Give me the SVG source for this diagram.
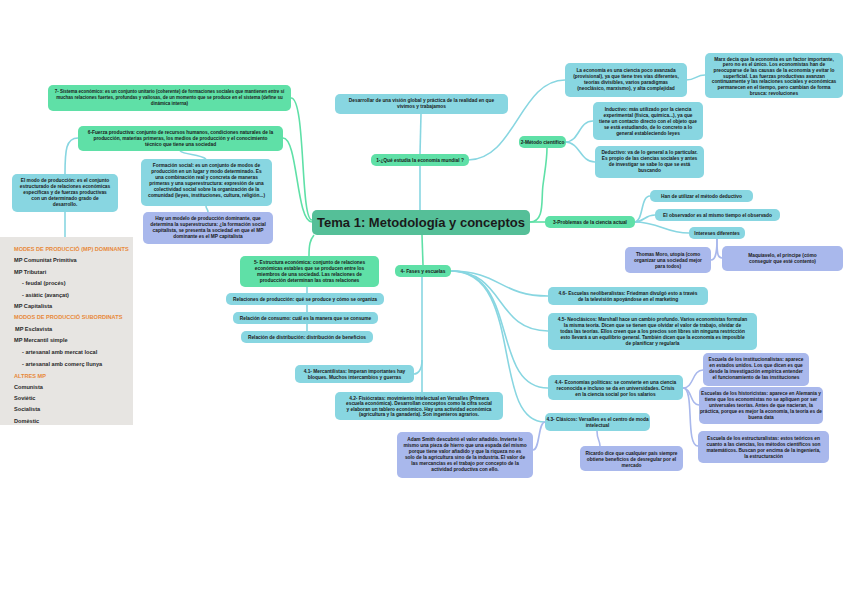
<svg xmlns="http://www.w3.org/2000/svg" width="848" height="599" viewBox="0 0 848 599">
<defs>
<style>
.g{fill:#5fe0a7}
.b{fill:#88d6e1}
.l{fill:#a9b8ec}
.c{fill:#55bf98}
text{font-family:"Liberation Sans",Arial,sans-serif;fill:#1a1a1a}
.t{font-size:4.8px;font-weight:bold;text-anchor:middle}
.s{font-size:4.5px}
.lg{stroke:#5fe0a7;fill:none;stroke-width:1.6}
.lb{stroke:#88d6e1;fill:none;stroke-width:1.6}
.ll{stroke:#a9b8ec;fill:none;stroke-width:1.6}
.im{font-size:5.6px;font-weight:bold;fill:#2a2a2a}
.or{fill:#e8893a}
</style>
</defs>
<rect width="848" height="599" fill="#ffffff"/>

<g id="connectors">
<path class="lb" d="M420,154 L421,114"/>
<path class="lb" d="M420,210 L420,166"/>
<path class="lb" d="M468,160 C515,160 520,80 565,80"/>
<path class="lb" d="M686,80 C696,80 696,75 705,75"/>
<path class="lb" d="M565,142 C580,142 578,121 593,121"/>
<path class="lb" d="M565,142 C580,142 580,162 595,162"/>
<path class="lg" d="M530,222 C545,222 541,200 543,185 C545,170 547,160 547,148"/>
<path class="lg" d="M530,222 L545,222"/>
<path class="lb" d="M634,222 C644,222 640,196 650,196"/>
<path class="lb" d="M634,222 C645,222 644,215 655,215"/>
<path class="lb" d="M634,222 C660,222 665,233 689,233"/>
<path class="ll" d="M717,239 C717,255 715,260 711,260"/>
<path class="ll" d="M717,239 C717,255 718,258 722,258"/>
<path class="lg" d="M312,220 C300,220 306,98 291,98"/>
<path class="lg" d="M312,222 C296,222 298,138 283,138"/>
<path class="lb" d="M78,138 C66,138 65,150 65,174"/>
<path class="lb" d="M180,151 C185,155 200,154 206,159"/>
<path class="lb" d="M206,206 C206,209 208,209 208,212"/>
<path class="lb" d="M65,212 L65,237"/>
<path class="lg" d="M314,235 C310,240 309,245 309,256"/>
<path class="lb" d="M307,287 L307,331"/>
<path class="lg" d="M422,235 L423,265"/>
<path class="lb" d="M422,277 L422,392"/>
<path class="lb" d="M422,360 C422,370 418,374 414,374"/>
<path class="lb" d="M451,271 C500,271 500,296 548,296"/>
<path class="lb" d="M451,271 C505,271 495,331 548,331"/>
<path class="lb" d="M451,271 C520,271 490,388 548,388"/>
<path class="lb" d="M451,271 C525,271 490,422 545,422"/>
<path class="ll" d="M545,422 C538,422 540,450 533,450"/>
<path class="ll" d="M597,431 C597,440 600,440 600,446"/>
<path class="ll" d="M683,388 C694,388 692,370 703,370"/>
<path class="ll" d="M683,388 C692,388 690,405 699,405"/>
<path class="ll" d="M683,388 C695,388 685,446 698,446"/>
</g>

<g id="center">
<rect class="c" x="312" y="210" width="218" height="25" rx="5"/>
<text x="421" y="227" font-size="13" font-weight="bold" text-anchor="middle" textLength="208" lengthAdjust="spacingAndGlyphs" fill="#1c2b2a">Tema 1: Metodología y conceptos</text>
</g>

<g id="n7">
<rect class="g" x="48" y="85" width="243" height="26" rx="5"/>
<text class="t s"><tspan x="169.5" y="93">7- Sistema económico: es un conjunto unitario (coherente) de formaciones sociales que mantienen entre sí</tspan><tspan x="169.5" y="99">muchas relaciones fuertes, profundas y valiosas, de un momento que se produce en el sistema (define su</tspan><tspan x="169.5" y="105">dinámica interna)</tspan></text>
</g>

<g id="n6">
<rect class="g" x="78" y="126" width="205" height="25" rx="5"/>
<text class="t"><tspan x="180.5" y="134">6-Fuerza productiva: conjunto de recursos humanos, condiciones naturales de la</tspan><tspan x="180.5" y="140">producción, materias primeras, los medios de producción y el conocimiento</tspan><tspan x="180.5" y="146">técnico que tiene una sociedad</tspan></text>
</g>

<g id="nModo">
<rect class="b" x="12" y="174" width="106" height="38" rx="5"/>
<text class="t"><tspan x="65" y="182">El modo de producción: es el conjunto</tspan><tspan x="65" y="188">estructurado de relaciones económicas</tspan><tspan x="65" y="194">específicas y de fuerzas productivas</tspan><tspan x="65" y="200">con un determinado grado de</tspan><tspan x="65" y="206">desarrollo.</tspan></text>
</g>

<g id="nFormacion">
<rect class="b" x="141" y="159" width="131" height="47" rx="5"/>
<text class="t"><tspan x="206.5" y="167">Formación social: es un conjunto de modos de</tspan><tspan x="206.5" y="173">producción en un lugar y modo determinado. Es</tspan><tspan x="206.5" y="179">una combinación real y concreta de maneras</tspan><tspan x="206.5" y="185">primeras y una superestructura: expresión de una</tspan><tspan x="206.5" y="191">colectividad social sobre la organización de la</tspan><tspan x="206.5" y="197">comunidad (leyes, instituciones, cultura, religión...)</tspan></text>
</g>

<g id="nHay">
<rect class="l" x="143" y="212" width="130" height="32" rx="5"/>
<text class="t"><tspan x="208" y="220">Hay un modelo de producción dominante, que</tspan><tspan x="208" y="226">determina la superestructura: ¿la formación social</tspan><tspan x="208" y="232">capitalista, se presenta la sociedad en que el MP</tspan><tspan x="208" y="238">dominante es el MP capitalista</tspan></text>
</g>

<g id="imagen">
<rect x="0" y="237" width="133" height="188" fill="#e7e5e2"/>
<text class="im or" x="14" y="251">MODES DE PRODUCCIÓ (MP) DOMINANTS</text>
<text class="im" x="14" y="262">MP Comunitat Primitiva</text>
<text class="im" x="14" y="274">MP Tributari</text>
<text class="im" x="22" y="285">- feudal (procés)</text>
<text class="im" x="22" y="297">- asiàtic (avançat)</text>
<text class="im" x="14" y="308">MP Capitalista</text>
<text class="im or" x="14" y="319">MODOS DE PRODUCCIÓ SUBORDINATS</text>
<text class="im" x="15" y="331">MP Esclavista</text>
<text class="im" x="14" y="342">MP Mercantil simple</text>
<text class="im" x="22" y="354">- artesanal amb mercat local</text>
<text class="im" x="22" y="366">- artesanal amb comerç llunya</text>
<text class="im or" x="14" y="378">ALTRES MP</text>
<text class="im" x="14" y="389">Comunista</text>
<text class="im" x="14" y="400">Soviètic</text>
<text class="im" x="14" y="411">Socialista</text>
<text class="im" x="14" y="423">Domèstic</text>
</g>

<g id="nDesarrollar">
<rect class="b" x="335" y="94" width="173" height="20" rx="5"/>
<text class="t"><tspan x="421.5" y="102">Desarrollar de una visión global y práctica de la realidad en que</tspan><tspan x="421.5" y="108">vivimos y trabajamos</tspan></text>
</g>

<g id="n1">
<rect class="g" x="371" y="154" width="98" height="12" rx="5"/>
<text class="t" x="420" y="162">1-¿Qué estudia la economía mundial ?</text>
</g>

<g id="n2">
<rect class="g" x="519" y="136" width="47" height="12" rx="5"/>
<text class="t" x="542.5" y="144">2-Método científico</text>
</g>

<g id="nEconomia">
<rect class="b" x="565" y="63" width="122" height="34" rx="5"/>
<text class="t"><tspan x="626" y="72">La economía es una ciencia poco avanzada</tspan><tspan x="626" y="78">(provisional), ya que tiene tres vías diferentes,</tspan><tspan x="626" y="84">teorías divisibles, varios paradigmas</tspan><tspan x="626" y="90">(neoclásico, marxismo), y alta complejidad</tspan></text>
</g>

<g id="nMarx">
<rect class="b" x="705" y="53" width="138" height="45" rx="5"/>
<text class="t"><tspan x="774" y="60.5">Marx decía que la economía es un factor importante,</tspan><tspan x="774" y="66.2">pero no es el único. Los economistas han de</tspan><tspan x="774" y="71.9">preocuparse de las causas de la economía y evitar lo</tspan><tspan x="774" y="77.6">superficial. Las fuerzas productivas avanzan</tspan><tspan x="774" y="83.3">continuamente y las relaciones sociales y económicas</tspan><tspan x="774" y="89">permanecen en el tiempo, pero cambian de forma</tspan><tspan x="774" y="94.7">brusca: revoluciones</tspan></text>
</g>

<g id="nInductivo">
<rect class="b" x="593" y="102" width="110" height="38" rx="5"/>
<text class="t"><tspan x="648" y="111">Inductivo: más utilizado por la ciencia</tspan><tspan x="648" y="117">experimental (física, química...), ya que</tspan><tspan x="648" y="123">tiene un contacto directo con el objeto que</tspan><tspan x="648" y="129">se está estudiando, de lo concreto a lo</tspan><tspan x="648" y="135">general estableciendo leyes</tspan></text>
</g>

<g id="nDeductivo">
<rect class="b" x="595" y="146" width="109" height="32" rx="5"/>
<text class="t"><tspan x="649.5" y="154">Deductivo: va de lo general a lo particular.</tspan><tspan x="649.5" y="160">Es propio de las ciencias sociales y antes</tspan><tspan x="649.5" y="166">de investigar se sabe lo que se está</tspan><tspan x="649.5" y="172">buscando</tspan></text>
</g>

<g id="n3">
<rect class="g" x="545" y="216" width="90" height="12" rx="5"/>
<text class="t" x="590" y="224">3-Problemas de la ciencia actual</text>
</g>

<g id="nHan">
<rect class="b" x="650" y="190" width="103" height="12" rx="5"/>
<text class="t" x="701.5" y="198">Han de utilizar el método deductivo</text>
</g>

<g id="nObservador">
<rect class="b" x="655" y="209" width="125" height="12" rx="5"/>
<text class="t" x="717.5" y="217">El observador es al mismo tiempo el observado</text>
</g>

<g id="nIntereses">
<rect class="b" x="689" y="227" width="56" height="12" rx="5"/>
<text class="t" x="717" y="235">Intereses diferentes</text>
</g>

<g id="nThomas">
<rect class="l" x="625" y="247" width="86" height="26" rx="5"/>
<text class="t"><tspan x="668" y="256">Thomas Moro, utopía (como</tspan><tspan x="668" y="262">organizar una sociedad mejor</tspan><tspan x="668" y="268">para todos)</tspan></text>
</g>

<g id="nMaquiavelo">
<rect class="l" x="722" y="246" width="121" height="25" rx="5"/>
<text class="t"><tspan x="782.5" y="257">Maquiavelo, el príncipe (cómo</tspan><tspan x="782.5" y="263">conseguir que esté contento)</tspan></text>
</g>

<g id="n4">
<rect class="g" x="395" y="265" width="56" height="12" rx="5"/>
<text class="t" x="423" y="273">4- Fases y escuelas</text>
</g>

<g id="n5">
<rect class="g" x="240" y="256" width="139" height="31" rx="5"/>
<text class="t"><tspan x="309.5" y="264">5- Estructura económica: conjunto de relaciones</tspan><tspan x="309.5" y="270">económicas estables que se producen entre los</tspan><tspan x="309.5" y="276">miembros de una sociedad. Las relaciones de</tspan><tspan x="309.5" y="282">producción determinan las otras relaciones</tspan></text>
</g>

<g id="nRelProd">
<rect class="b" x="226" y="293" width="158" height="12" rx="5"/>
<text class="t" x="305" y="301">Relaciones de producción: qué se produce y cómo se organiza</text>
</g>

<g id="nRelCons">
<rect class="b" x="233" y="312" width="145" height="12" rx="5"/>
<text class="t" x="305.5" y="320">Relación de consumo: cuál es la manera que se consume</text>
</g>

<g id="nRelDist">
<rect class="b" x="241" y="331" width="132" height="12" rx="5"/>
<text class="t" x="307" y="339">Relación de distribución: distribución de beneficios</text>
</g>

<g id="n41">
<rect class="b" x="295" y="365" width="119" height="18" rx="5"/>
<text class="t"><tspan x="354.5" y="372.5">4.1- Mercantilistas: Imperan importantes hay</tspan><tspan x="354.5" y="378.5">bloques. Muchos intercambios y guerras</tspan></text>
</g>

<g id="n42">
<rect class="b" x="335" y="392" width="168" height="28" rx="5"/>
<text class="t"><tspan x="419" y="399.5">4.2- Fisiócratas: movimiento intelectual en Versalles (Primera</tspan><tspan x="419" y="405">escuela económica). Desarrollan conceptos como la cifra social</tspan><tspan x="419" y="410.5">y elaboran un tablero económico. Hay una actividad económica</tspan><tspan x="419" y="416">(agricultura y la ganadería). Son ingenieros agrarios.</tspan></text>
</g>

<g id="nAdam">
<rect class="l" x="397" y="432" width="136" height="46" rx="5"/>
<text class="t"><tspan x="465" y="441">Adam Smith descubrió el valor añadido. Invierte lo</tspan><tspan x="465" y="447">mismo una pieza de hierro que una espada del mismo</tspan><tspan x="465" y="453">porque tiene valor añadido y que la riqueza no es</tspan><tspan x="465" y="459">solo de la agricultura sino de la industria. El valor de</tspan><tspan x="465" y="465">las mercancías es el trabajo por concepto de la</tspan><tspan x="465" y="471">actividad productiva con ello.</tspan></text>
</g>

<g id="n46">
<rect class="b" x="548" y="287" width="160" height="18" rx="5"/>
<text class="t"><tspan x="628" y="294.5">4.6- Escuelas neoliberalistas: Friedman divulgó esto a través</tspan><tspan x="628" y="300.5">de la televisión apoyándose en el marketing</tspan></text>
</g>

<g id="n45">
<rect class="b" x="548" y="313" width="209" height="37" rx="5"/>
<text class="t"><tspan x="652.5" y="321">4.5- Neoclásicos: Marshall hace un cambio profundo. Varios economistas formulan</tspan><tspan x="652.5" y="327">la misma teoría. Dicen que se tienen que olvidar el valor de trabajo, olvidar de</tspan><tspan x="652.5" y="333">todas las teorías. Ellos creen que a los precios son libres sin ninguna restricción</tspan><tspan x="652.5" y="339">esto llevará a un equilibrio general. También dicen que la economía es imposible</tspan><tspan x="652.5" y="345">de planificar y regularla</tspan></text>
</g>

<g id="n44">
<rect class="b" x="548" y="375" width="135" height="25" rx="5"/>
<text class="t"><tspan x="615.5" y="384">4.4- Economías políticas: se convierte en una ciencia</tspan><tspan x="615.5" y="390">reconocida e incluso se da en universidades. Crisis</tspan><tspan x="615.5" y="396">en la ciencia social por los salarios</tspan></text>
</g>

<g id="n43">
<rect class="b" x="545" y="413" width="105" height="18" rx="5"/>
<text class="t"><tspan x="597.5" y="420.5">4.3- Clásicos: Versalles es el centro de moda</tspan><tspan x="597.5" y="426.5">intelectual</tspan></text>
</g>

<g id="nRicardo">
<rect class="l" x="580" y="446" width="103" height="25" rx="5"/>
<text class="t"><tspan x="631.5" y="455">Ricardo dice que cualquier país siempre</tspan><tspan x="631.5" y="461">obtiene beneficios de desregular por el</tspan><tspan x="631.5" y="467">mercado</tspan></text>
</g>

<g id="nInstitucionalistas">
<rect class="l" x="703" y="353" width="106" height="33" rx="5"/>
<text class="t"><tspan x="756" y="361">Escuela de los institucionalistas: aparece</tspan><tspan x="756" y="367">en estados unidos. Los que dicen es que</tspan><tspan x="756" y="373">desde la investigación empírica entender</tspan><tspan x="756" y="379">el funcionamiento de las instituciones</tspan></text>
</g>

<g id="nHistoricistas">
<rect class="l" x="699" y="387" width="124" height="37" rx="5"/>
<text class="t"><tspan x="761" y="395">Escuelas de los historicistas: aparece en Alemania y</tspan><tspan x="761" y="401">tiene que los economistas no se apliquen por ser</tspan><tspan x="761" y="407">universales teorías. Antes de que nacieran, la</tspan><tspan x="761" y="413">práctica, porque es mejor la economía, la teoría es de</tspan><tspan x="761" y="419">buena data</tspan></text>
</g>

<g id="nEstructuralistas">
<rect class="l" x="698" y="431" width="131" height="32" rx="5"/>
<text class="t"><tspan x="763.5" y="440">Escuela de los estructuralistas: estos teóricos en</tspan><tspan x="763.5" y="446">cuanto a las ciencias, los métodos científicos son</tspan><tspan x="763.5" y="452">matemáticos. Buscan por encima de la ingeniería,</tspan><tspan x="763.5" y="458">la estructuración</tspan></text>
</g>
</svg>
